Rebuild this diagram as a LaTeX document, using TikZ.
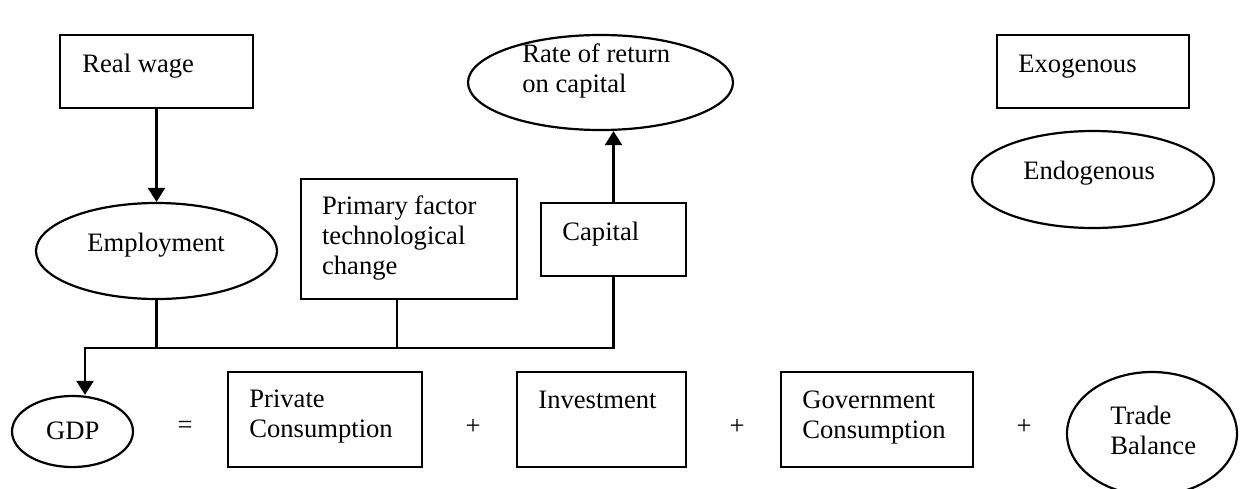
\documentclass[tikz,border=0pt]{standalone}
\usepackage{fontspec}
\setmainfont{Liberation Serif}
\usetikzlibrary{arrows.meta,shapes.geometric}

\tikzset{
  every picture/.style={x=0.5pt,y=-0.5pt},
  pen/.style={line width=1.1pt,draw=black},
  exobox/.style={pen,rectangle,inner sep=0pt},
  endoshape/.style={pen,ellipse,inner sep=0pt},
  % multi-line labels are placed by the baseline of their last line
  lbl/.style={anchor=base west,inner sep=0pt,align=left,
    font=\fontsize{13.3}{15}\selectfont},
  sym/.style={anchor=center,inner sep=0pt,font=\fontsize{13.3}{15}\selectfont},
  link/.style={pen,line cap=rect},
  flow/.style={pen,-{Triangle[length=7pt,width=8.5pt]}},
}

\begin{document}
\begin{tikzpicture}
\useasboundingbox (0,0) rectangle (1242,488);
\clip (0,0) rectangle (1242,488);

% ---- upper part: determinants ----
\node[exobox,minimum width=96.5pt,minimum height=36.5pt] (rw) at (156.5,71.5) {};
\node[lbl] (trw) at (82,72.7) {Real wage};

\node[endoshape,minimum width=120.5pt,minimum height=48pt] (emp) at (156.5,251) {};
\node[lbl] (temp) at (87,251.7) {Employment};

\node[exobox,minimum width=108pt,minimum height=60pt] (pf) at (409,239) {};
\node[lbl] (tpf) at (321.7,274.5) {Primary factor\\technological\\change};

\node[exobox,minimum width=72.5pt,minimum height=36.5pt] (cap) at (613.5,239.5) {};
\node[lbl] (tcap) at (562,240) {Capital};

\node[endoshape,minimum width=132.5pt,minimum height=47.5pt] (ror) at (600.5,82.5) {};
\node[lbl] (tror) at (522,92.7) {Rate of return\\on capital};

% ---- legend ----
\node[exobox,minimum width=96pt,minimum height=36.5pt] (exo) at (1093,71.5) {};
\node[lbl] (texo) at (1018,72.7) {Exogenous};

\node[endoshape,minimum width=121pt,minimum height=48.5pt] (endo) at (1093,179.5) {};
\node[lbl] (tendo) at (1023,179.3) {Endogenous};

% ---- GDP identity ----
\node[endoshape,minimum width=60.5pt,minimum height=35.5pt] (gdp) at (72.5,431.5) {};
\node[lbl] (tgdp) at (45.7,439.3) {GDP};
\node[sym] (eq) at (185,427) {=};

\node[exobox,minimum width=97pt,minimum height=47.5pt] (pc) at (325,419.5) {};
\node[lbl] (tpc) at (249,437.3) {Private\\Consumption};
\node[sym] (p1) at (473,427) {+};

\node[exobox,minimum width=84.5pt,minimum height=47.5pt] (inv) at (601.5,419.5) {};
\node[lbl] (tinv) at (538,408.3) {Investment};
\node[sym] (p2) at (737,427) {+};

\node[exobox,minimum width=96pt,minimum height=47.5pt] (gc) at (877,419.5) {};
\node[lbl] (tgc) at (802,438) {Government\\Consumption};
\node[sym] (p3) at (1024,427) {+};

\node[endoshape,minimum width=85pt,minimum height=61.7pt] (tb) at (1152,433.7) {};
\node[lbl] (ttb) at (1110,454) {Trade\\Balance};

% ---- connectors ----
\coordinate (busL) at (85,348);
\coordinate (pfdrop) at (397,299);

\draw[flow] (rw.south) -- (emp.north);
\draw[flow] (cap.north) -- (cap.north |- ror.south);
\draw[link] (emp.south) -- (emp.south |- busL);
\draw[link] (pfdrop) -- (pfdrop |- busL);
\draw[flow] (cap.south) |- (busL) -- (busL |- gdp.north);
\end{tikzpicture}
\end{document}
